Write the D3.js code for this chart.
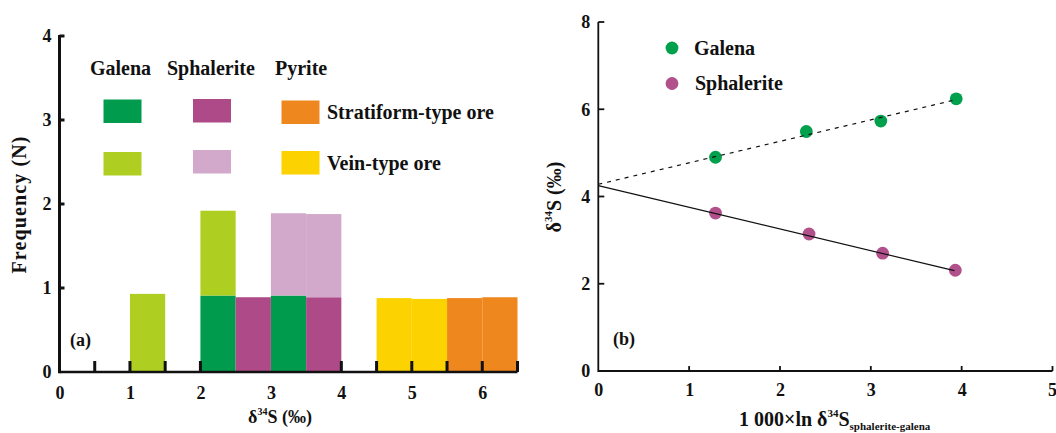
<!DOCTYPE html>
<html>
<head>
<meta charset="utf-8">
<script src="https://cdn.jsdelivr.net/npm/d3@7"></script>
<style>
  html, body { margin: 0; padding: 0; background: #fff; }
  svg { display: block; }
  text { font-family: "Liberation Serif", "Times New Roman", serif; font-weight: bold; fill: #111; }
</style>
</head>
<body>
<svg id="chart" width="1056" height="433"></svg>
<script>
// ---- Histogram (a): δ34S frequency, 0.5‰ bins ----
const binWidth = 0.5;
const galenaStratBins = [2.0, 3.0];
const galenaStratN    = [0.91, 0.91];
const sphalStratBins  = [2.5, 3.5];
const sphalStratN     = [0.89, 0.89];
const pyriteStratBins = [5.5, 6.0];
const pyriteStratN    = [0.88, 0.89];
const galenaVeinBins  = [1.0, 2.0];
const galenaVeinN     = [0.93, 1.01];
const sphalVeinBins   = [3.0, 3.5];
const sphalVeinN      = [0.98, 0.99];
const pyriteVeinBins  = [4.5, 5.0];
const pyriteVeinN     = [0.88, 0.87];

const histXTicks   = [0, 1, 2, 3, 4, 5, 6];
const histXMarks   = [0.5, 1, 1.5, 2, 4, 4.5, 5, 5.5, 6, 6.5];
const histYTicks   = [0, 1, 2, 3, 4];

// ---- Scatter (b): δ34S vs 1000 ln α ----
const galenaX = [1.29, 2.29, 3.11, 3.94];
const galenaY = [4.90, 5.49, 5.73, 6.24];
const sphalX  = [1.29, 2.32, 3.13, 3.93];
const sphalY  = [3.62, 3.14, 2.70, 2.31];
const galenaFitX = [0, 3.94];
const galenaFitY = [4.28, 6.22];
const sphalFitX  = [0, 3.92];
const sphalFitY  = [4.25, 2.30];

const scatXTicks = [0, 1, 2, 3, 4, 5];
const scatYTicks = [0, 2, 4, 6, 8];

const C = {
  galenaStrat: "#009b4c",
  galenaVein:  "#aecf22",
  sphalStrat:  "#ae4a87",
  sphalVein:   "#d2a8cb",
  pyriteStrat: "#ef871f",
  pyriteVein:  "#fcd200",
  galenaPt:    "#00a04c",
  sphalPt:     "#b2508c"
};

const svg = d3.select("#chart");
const fmt = d3.format("d");

function styleAxis(g) {
  g.attr("font-family", null).attr("font-size", null);
  g.select(".domain").remove();
  g.selectAll("text").attr("font-size", 18);
}

// ================= Panel (a) =================
const xL = d3.scaleLinear().domain([0, 6.5]).range([59.5, 517.5]);
const yL = d3.scaleLinear().domain([0, 4]).range([372, 36]);
const gA = svg.append("g");

// stacked bars: stratiform first, vein on top
const base = new Map();
function drawBars(bins, counts, color) {
  bins.forEach((b, i) => {
    const key = b.toFixed(2);
    const b0 = base.get(key) || 0;
    const b1 = b0 + counts[i];
    base.set(key, b1);
    gA.append("rect")
      .attr("x", xL(b))
      .attr("width", xL(b + binWidth) - xL(b))
      .attr("y", yL(b1))
      .attr("height", yL(b0) - yL(b1))
      .attr("fill", color);
  });
}
drawBars(galenaStratBins, galenaStratN, C.galenaStrat);
drawBars(sphalStratBins, sphalStratN, C.sphalStrat);
drawBars(pyriteStratBins, pyriteStratN, C.pyriteStrat);
drawBars(galenaVeinBins, galenaVeinN, C.galenaVein);
drawBars(sphalVeinBins, sphalVeinN, C.sphalVein);
drawBars(pyriteVeinBins, pyriteVeinN, C.pyriteVein);

// x axis: thick baseline, inward tick marks, labels below
gA.append("g").attr("transform", `translate(0,${yL(0)})`)
  .call(d3.axisBottom(xL).tickValues(histXTicks).tickFormat(fmt).tickSize(0).tickPadding(14))
  .call(styleAxis);

gA.append("line")
  .attr("x1", xL(0)).attr("x2", xL(6.5))
  .attr("y1", yL(0)).attr("y2", yL(0))
  .attr("stroke", "#111").attr("stroke-width", 2.5);
gA.selectAll("line.mark").data(histXMarks).join("line")
  .attr("class", "mark")
  .attr("x1", d => xL(d)).attr("x2", d => xL(d))
  .attr("y1", yL(0)).attr("y2", yL(0) - 11)
  .attr("stroke", "#111").attr("stroke-width", 3);

// y axis
gA.append("g").attr("transform", `translate(${xL(0)},0)`)
  .call(d3.axisLeft(yL).tickValues(histYTicks).tickFormat(fmt).tickSize(0).tickPadding(8))
  .call(styleAxis);
gA.append("line")
  .attr("x1", xL(0)).attr("x2", xL(0))
  .attr("y1", yL(4) - 1).attr("y2", yL(0) + 1.2)
  .attr("stroke", "#111").attr("stroke-width", 3);
gA.selectAll("line.ytick").data(histYTicks.filter(d => d > 0)).join("line")
  .attr("class", "ytick")
  .attr("x1", xL(0)).attr("x2", xL(0) + 5)
  .attr("y1", d => yL(d)).attr("y2", d => yL(d))
  .attr("stroke", "#111").attr("stroke-width", 3);

// axis titles
const xtA = gA.append("text").attr("x", 280).attr("y", 423)
  .attr("text-anchor", "middle").attr("font-size", 18);
xtA.append("tspan").text("δ");
xtA.append("tspan").attr("font-size", 10).attr("dy", -8).text("34");
xtA.append("tspan").attr("dy", 8).text("S (‰)");

gA.append("text")
  .attr("transform", "translate(26,205) rotate(-90)")
  .attr("text-anchor", "middle").attr("font-size", 20)
  .attr("textLength", 137).attr("lengthAdjust", "spacing")
  .text("Frequency (N)");

gA.append("text").attr("x", 70).attr("y", 346).attr("font-size", 18).text("(a)");

// legend
const legHead = [["Galena", 90], ["Sphalerite", 167], ["Pyrite", 275]];
legHead.forEach(([t, x]) => gA.append("text").attr("x", x).attr("y", 75).attr("font-size", 20).text(t));
const legBoxes = [
  [103.5, 99.5, C.galenaStrat], [193, 99, C.sphalStrat], [281.5, 100.5, C.pyriteStrat],
  [103.5, 152, C.galenaVein],   [193, 150, C.sphalVein], [281.5, 151, C.pyriteVein]
];
legBoxes.forEach(([x, y, c]) => gA.append("rect")
  .attr("x", x).attr("y", y).attr("width", 38).attr("height", 23.5).attr("fill", c));
gA.append("text").attr("x", 327).attr("y", 118.5).attr("font-size", 20).text("Stratiform-type ore");
gA.append("text").attr("x", 327).attr("y", 170).attr("font-size", 20).text("Vein-type ore");

// ================= Panel (b) =================
const xR = d3.scaleLinear().domain([0, 5]).range([598.3, 1052.5]);
const yR = d3.scaleLinear().domain([0, 8]).range([371, 22]);
const gB = svg.append("g");

const xAxisB = gB.append("g").attr("transform", `translate(0,${yR(0)})`)
  .call(d3.axisBottom(xR).tickValues(scatXTicks).tickFormat(fmt).tickSize(0).tickPadding(12))
  .call(styleAxis);
// keep the last label inside the right edge
xAxisB.selectAll(".tick").filter(d => d === 5).select("text")
  .attr("text-anchor", "end").attr("x", 4);

gB.append("g").attr("transform", `translate(${xR(0)},0)`)
  .call(d3.axisLeft(yR).tickValues(scatYTicks).tickFormat(fmt).tickSize(0).tickPadding(8))
  .call(styleAxis);

gB.append("path")
  .attr("d", `M${xR(0)},${yR(8)}V${yR(0)}H${xR(5)}`)
  .attr("fill", "none").attr("stroke", "#111").attr("stroke-width", 1.8);
gB.selectAll("line.xt").data(scatXTicks.filter(d => d > 0)).join("line")
  .attr("class", "xt")
  .attr("x1", d => xR(d)).attr("x2", d => xR(d))
  .attr("y1", yR(0)).attr("y2", yR(0) - 5)
  .attr("stroke", "#111").attr("stroke-width", 1.8);
gB.selectAll("line.yt").data(scatYTicks.filter(d => d > 0)).join("line")
  .attr("class", "yt")
  .attr("x1", xR(0)).attr("x2", xR(0) + 6)
  .attr("y1", d => yR(d)).attr("y2", d => yR(d))
  .attr("stroke", "#111").attr("stroke-width", 1.8);

// points
gB.selectAll("circle.gal").data(galenaX).join("circle")
  .attr("class", "gal")
  .attr("cx", d => xR(d)).attr("cy", (d, i) => yR(galenaY[i]))
  .attr("r", 6.4).attr("fill", C.galenaPt);
gB.selectAll("circle.sph").data(sphalX).join("circle")
  .attr("class", "sph")
  .attr("cx", d => xR(d)).attr("cy", (d, i) => yR(sphalY[i]))
  .attr("r", 6.4).attr("fill", C.sphalPt);

// fit lines
const line = d3.line().x(d => xR(d[0])).y(d => yR(d[1]));
gB.append("path")
  .attr("d", line(galenaFitX.map((x, i) => [x, galenaFitY[i]])))
  .attr("fill", "none").attr("stroke", "#111").attr("stroke-width", 1.2)
  .attr("stroke-dasharray", "4,5");
gB.append("path")
  .attr("d", line(sphalFitX.map((x, i) => [x, sphalFitY[i]])))
  .attr("fill", "none").attr("stroke", "#111").attr("stroke-width", 1.2);

// legend
gB.append("circle").attr("cx", 672).attr("cy", 48).attr("r", 6.4).attr("fill", C.galenaPt);
gB.append("circle").attr("cx", 672).attr("cy", 83.5).attr("r", 6.4).attr("fill", C.sphalPt);
gB.append("text").attr("x", 694).attr("y", 54.5).attr("font-size", 20).text("Galena");
gB.append("text").attr("x", 695).attr("y", 89.5).attr("font-size", 20).text("Sphalerite");

gB.append("text").attr("x", 613).attr("y", 345).attr("font-size", 18).text("(b)");

// axis titles
const xtB = gB.append("text").attr("x", 739).attr("y", 426).attr("font-size", 20);
xtB.append("tspan").text("1 000×ln δ");
xtB.append("tspan").attr("font-size", 11).attr("dy", -9).text("34");
xtB.append("tspan").attr("dy", 9).text("S");
xtB.append("tspan").attr("font-size", 11).attr("dy", 4).text("sphalerite-galena");

const ytB = gB.append("text")
  .attr("transform", "translate(561,197) rotate(-90)")
  .attr("text-anchor", "middle").attr("font-size", 20);
ytB.append("tspan").text("δ");
ytB.append("tspan").attr("font-size", 11).attr("dy", -9).text("34");
ytB.append("tspan").attr("dy", 9).text("S (‰)");
</script>
</body>
</html>
